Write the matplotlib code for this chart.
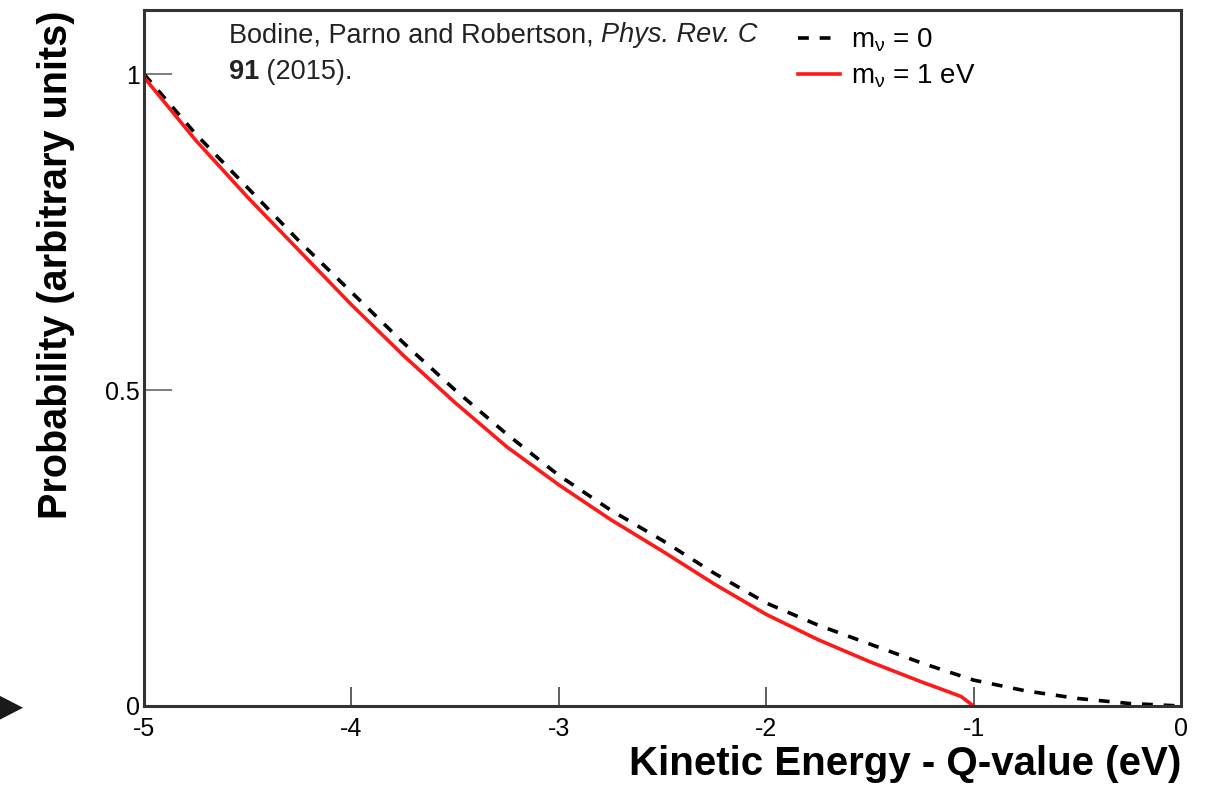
"""
Beta spectrum endpoint, massless vs 1 eV neutrino (ROOT-style replot)
"""

import numpy as np
import matplotlib
matplotlib.use('Agg')
import matplotlib.pyplot as plt
from matplotlib.patches import Polygon

plt.rcParams['font.family'] = ['Liberation Sans', 'DejaVu Sans']
plt.rcParams['mathtext.fontset'] = 'custom'
plt.rcParams['mathtext.rm'] = 'Liberation Sans'
plt.rcParams['mathtext.it'] = 'Liberation Sans:italic'
plt.rcParams['mathtext.bf'] = 'Liberation Sans:bold'

x_m0 = [-5.0, -4.75, -4.5, -4.25, -4.0, -3.75, -3.5, -3.25, -3.0, -2.75, -2.5,
        -2.25, -2.0, -1.75, -1.5, -1.25, -1.0, -0.75, -0.5, -0.25, 0.0]
y_m0 = [1.0, 0.905, 0.82, 0.735, 0.655, 0.575, 0.50, 0.43, 0.365, 0.31, 0.262,
        0.21, 0.163, 0.128, 0.098, 0.068, 0.041, 0.024, 0.012, 0.004, 0.0]

x_m1 = [-5.0, -4.75, -4.5, -4.25, -4.0, -3.75, -3.5, -3.25, -3.0, -2.75, -2.5,
        -2.25, -2.0, -1.75, -1.5, -1.25, -1.15, -1.06, -1.0]
y_m1 = [0.995, 0.895, 0.805, 0.72, 0.635, 0.555, 0.48, 0.41, 0.35, 0.295, 0.245,
        0.193, 0.145, 0.105, 0.07, 0.038, 0.026, 0.015, 0.0]

xticks = [-5, -4, -3, -2, -1, 0]
yticks = [0, 0.5, 1]
ytick_labels = ['0', '0.5', '1']

fig = plt.figure(figsize=(12.12, 7.89), dpi=100)
ax = fig.add_axes([0.1188, 0.1052, 0.9744 - 0.1188, 0.987 - 0.1052])

ax.plot(x_m0, y_m0, color='black', lw=2.6, ls=(0, (3, 3)), label=r'm$_\mathrm{ν}$ = 0')
ax.plot(x_m1, y_m1, color='#ff1a1a', lw=2.6, label=r'm$_\mathrm{ν}$ = 1 eV')

ax.set_xlim(-5, 0)
ax.set_ylim(0, 1.101)

ax.set_xticks(xticks)
ax.set_xticklabels([str(t) for t in xticks])
ax.set_yticks(yticks)
ax.set_yticklabels(ytick_labels)
ax.tick_params(axis='x', direction='in', length=14, width=1.2, color='#444444',
               labelsize=18, pad=8)
ax.tick_params(axis='y', direction='in', length=20, width=1.2, color='#666666',
               labelsize=18, pad=3)
for s in ax.spines.values():
    s.set_linewidth(2.2)
    s.set_color('#333333')

ax.set_xlabel('Kinetic Energy - Q-value (eV)', fontsize=29, fontweight='bold',
              loc='right', labelpad=3)
ax.set_ylabel('Probability (arbitrary units)', fontsize=28.5, fontweight='bold',
              loc='top', labelpad=22)

# citation, pieced together so the italic and bold parts use real font faces
t1 = ax.text(0.082, 0.983, 'Bodine, Parno and Robertson, ', transform=ax.transAxes,
             fontsize=19.5, va='top', ha='left', color='#222222')
ax.annotate('Phys. Rev. C', xycoords=t1, xy=(1, 0), va='bottom', ha='left',
            fontsize=19.5, fontstyle='italic', color='#222222')
t2 = ax.text(0.082, 0.930, '91', transform=ax.transAxes, fontsize=19.5,
             fontweight='bold', va='top', ha='left', color='#222222')
ax.annotate(' (2015).', xycoords=t2, xy=(1, 0), va='bottom', ha='left',
            fontsize=19.5, color='#222222')

ax.legend(loc='upper left', bbox_to_anchor=(0.615, 1.0), frameon=False,
          fontsize=20, handlelength=1.5, handletextpad=0.4, labelspacing=0.3,
          borderaxespad=0.2)

# stray arrow marker at the left edge of the original image
fig.patches.append(Polygon([[0.0, 0.118], [0.0, 0.088], [0.019, 0.103]],
                           closed=True, transform=fig.transFigure,
                           facecolor='#1a1a1a', edgecolor='none'))

plt.savefig('out.png', dpi=100)
